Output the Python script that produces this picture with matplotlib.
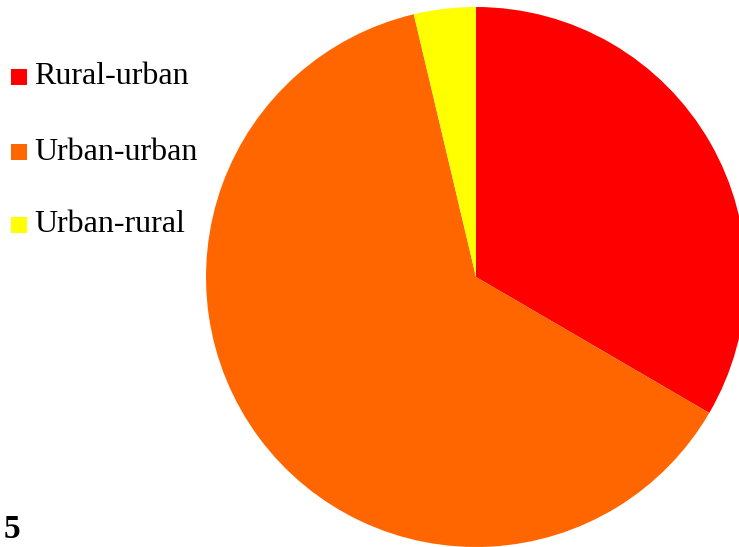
import matplotlib
matplotlib.use("Agg")
import matplotlib.pyplot as plt
from matplotlib.patches import Rectangle

categories = ["Rural-urban", "Urban-urban", "Urban-rural"]
shares = [33.4, 62.9, 3.7]
colors = ["#FF0000", "#FF6600", "#FFFF00"]
panel_label = "5"

plt.rcParams["font.family"] = ["Liberation Serif", "DejaVu Serif"]

W, H = 739, 547
fig = plt.figure(figsize=(W / 100, H / 100), dpi=100)

# pie axes: circle centred at (476, 277) px with radius 270 px
cx, cy, r = 476, 277, 270
ax = fig.add_axes([(cx - r) / W, (H - cy - r) / H, 2 * r / W, 2 * r / H])
ax.pie(shares, colors=colors, startangle=90, counterclock=False,
       wedgeprops=dict(linewidth=0), radius=1.0)
ax.set_xlim(-1, 1)
ax.set_ylim(-1, 1)
ax.set_aspect("equal")
ax.axis("off")

# legend on the left
rows_y = [77, 152, 225]
for name, col, y in zip(categories, colors, rows_y):
    fig.patches.append(Rectangle((11 / W, 1 - (y + 8) / H), 16 / W, 16 / H,
                                 transform=fig.transFigure, facecolor=col,
                                 edgecolor="none"))
    fig.text(34 / W, 1 - y / H, name, fontsize=23, va="center", ha="left")

fig.text(4 / W, 1 - 538 / H, panel_label, fontsize=24, fontweight="bold",
         ha="left", va="baseline")

fig.savefig("out.png", dpi=100)
